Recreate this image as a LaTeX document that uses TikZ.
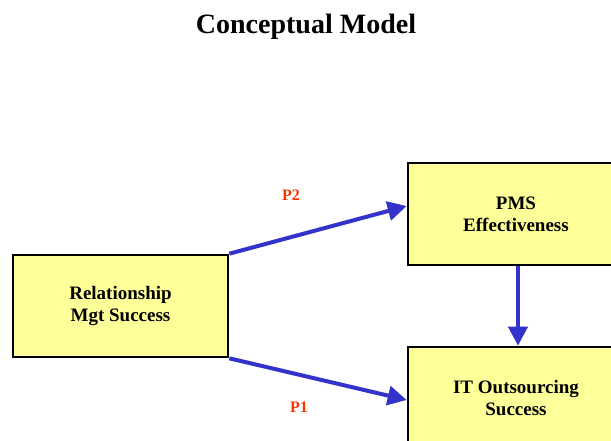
\documentclass[tikz,border=0pt]{standalone}
\usepackage{fontspec}
\setmainfont{Liberation Serif}
\usetikzlibrary{arrows.meta}
\definecolor{boxfill}{HTML}{FFFF99}
\definecolor{arrowblue}{HTML}{3333CC}
\definecolor{labred}{HTML}{FF3300}
\begin{document}
\begin{tikzpicture}[x=1pt,y=-1pt,
  box/.style={draw=black, line width=2.6pt, fill=boxfill, minimum width=215pt, minimum height=102pt,
    align=center, font=\fontsize{19}{22}\selectfont\bfseries, inner sep=0pt},
  link/.style={draw=arrowblue, line width=4pt, -{Triangle[length=19pt,width=19pt]}},
  plabel/.style={text=labred, font=\fontsize{16}{18}\selectfont\bfseries}]
\useasboundingbox (0,0) rectangle (611,441);
\begin{scope}
\clip (0,0) rectangle (611,441);
\node[font=\fontsize{28}{32}\selectfont\bfseries] (title) at (306,27) {Conceptual Model};
\node[box] (rel) at (120.5,306) {Relationship\\Mgt Success};
\node[box, minimum width=216pt] (pms) at (516,214) {PMS\\Effectiveness};
\node[box, minimum width=216pt] (ito) at (516,398) {IT Outsourcing\\Success};
\draw[link] (rel.north east) -- ([yshift=8pt]pms.west);
\draw[link] (rel.south east) -- ([yshift=-2pt]ito.west);
\draw[link] ([xshift=2pt]pms.south) -- ([xshift=2pt]ito.north);
\node[plabel] (p2) at (291,195) {P2};
\node[plabel] (p1) at (299,407) {P1};
\end{scope}
\end{tikzpicture}
\end{document}
